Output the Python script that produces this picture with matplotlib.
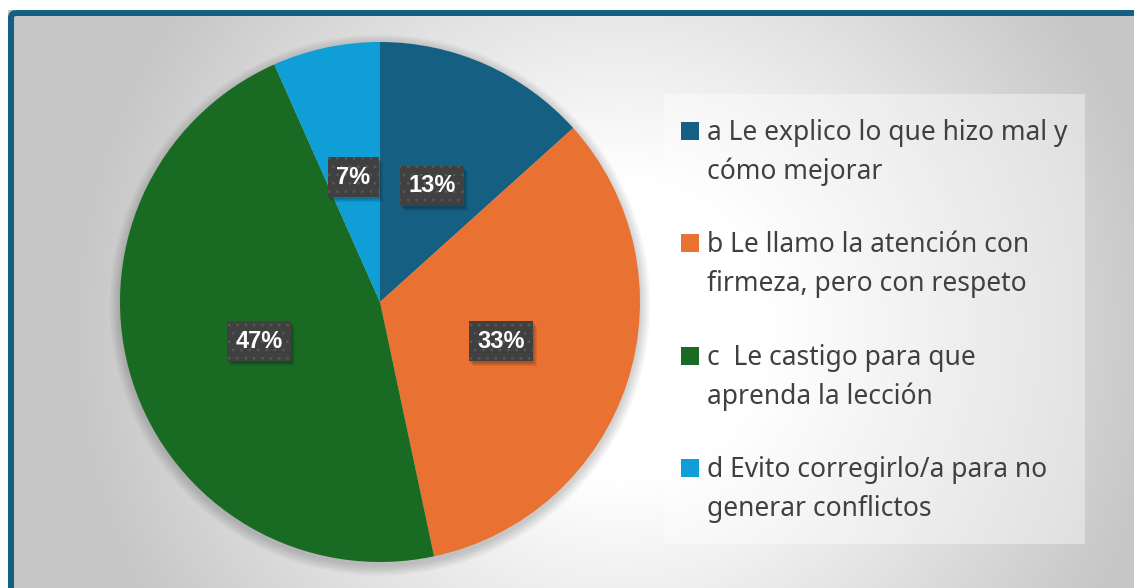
import numpy as np
import matplotlib
matplotlib.use('Agg')
import matplotlib.pyplot as plt
from matplotlib.patches import Rectangle, FancyBboxPatch, Circle
import matplotlib.transforms as mtransforms

# ---- data ----
categories = [
    ['a Le explico lo que hizo mal y', 'cómo mejorar'],
    ['b Le llamo la atención con', 'firmeza, pero con respeto'],
    ['c  Le castigo para que', 'aprenda la lección'],
    ['d Evito corregirlo/a para no', 'generar conflictos'],
]
counts = [2, 5, 7, 1]
colors = ['#156082', '#E97132', '#196B24', '#0F9ED5']

plt.rcParams['hatch.linewidth'] = 0.8

W, H = 1134, 588
fig = plt.figure(figsize=(W / 100, H / 100), dpi=100)

# ---- background ----
bg = fig.add_axes([0, 0, 1, 1])
bg.set_axis_off()
bg.set_xlim(0, W)
bg.set_ylim(H, 0)
yy, xx = np.mgrid[0:H, 0:W]
r = np.hypot(xx - 620, (yy - 330) * 1.0)
v = 255 - 57 * np.clip((r - 150) / 400, 0, 1)
img = np.dstack([v, v, v]) / 255
bg.imshow(img, extent=(0, W, H, 0), interpolation='bilinear', zorder=0, aspect='auto')
bg.add_patch(Rectangle((0, 0), W, 10, facecolor='white', edgecolor='none', zorder=1))
bg.add_patch(Rectangle((0, 0), 8, H, facecolor='white', edgecolor='none', zorder=1))
bg.add_patch(FancyBboxPatch((11, 13), W + 40, H + 40,
                            boxstyle='round,pad=0,rounding_size=5',
                            facecolor='none', edgecolor='#156082',
                            linewidth=6 * 72 / 100, zorder=2))

# ---- legend box ----
bg.add_patch(Rectangle((664, 94), 421, 450, facecolor='white', alpha=0.4,
                       edgecolor='none', zorder=3))

# ---- pie ----
cx, cy, R = 380, 302, 260
ax = fig.add_axes([(cx - R) / W, (H - cy - R) / H, 2 * R / W, 2 * R / H])
ax.set_axis_off()

# soft shadow behind the pie
for k in range(1, 10):
    ax.add_patch(Circle((0.0, -0.012), 1.0 + 0.0045 * k, facecolor='black',
                        alpha=0.018, edgecolor='none', zorder=0, clip_on=False))

wedges, texts, autotexts = ax.pie(
    counts, colors=colors, startangle=90, counterclock=False,
    autopct=lambda p: f'{p:.0f}%', pctdistance=0.49, radius=1,
    wedgeprops=dict(linewidth=0),
    textprops=dict(color='white', fontsize=17, fontweight='bold',
                   family='Liberation Sans'))
ax.set_xlim(-1, 1)
ax.set_ylim(-1, 1)

for t in autotexts:
    t.set_zorder(4)
    t.set_bbox(dict(boxstyle='square,pad=0.36', facecolor='#404040',
                    edgecolor='#575757', linewidth=0, hatch='..'))

# soft drop shadows under the label boxes
fig.canvas.draw()
for t in autotexts:
    bb = t.get_bbox_patch().get_window_extent()
    for k in range(4):
        rect = Rectangle((bb.x0 + 1 + k, bb.y0 - 2 - k), bb.width, bb.height,
                         facecolor='black', alpha=0.07, edgecolor='none',
                         transform=mtransforms.IdentityTransform(),
                         zorder=3.5, clip_on=False)
        ax.add_patch(rect)

# legend entries
base0 = 140
step = 112.3
for i, (lines, w) in enumerate(zip(categories, wedges)):
    b = base0 + i * step
    bg.add_patch(Rectangle((681, b - 18), 18, 18, facecolor=w.get_facecolor(),
                           edgecolor='none', zorder=4))
    for j, line in enumerate(lines):
        bg.text(707, b + j * 39, line, ha='left', va='baseline', color='#404040',
                fontsize=19, family='Noto Sans', zorder=5)

fig.savefig('out.png', dpi=100)
